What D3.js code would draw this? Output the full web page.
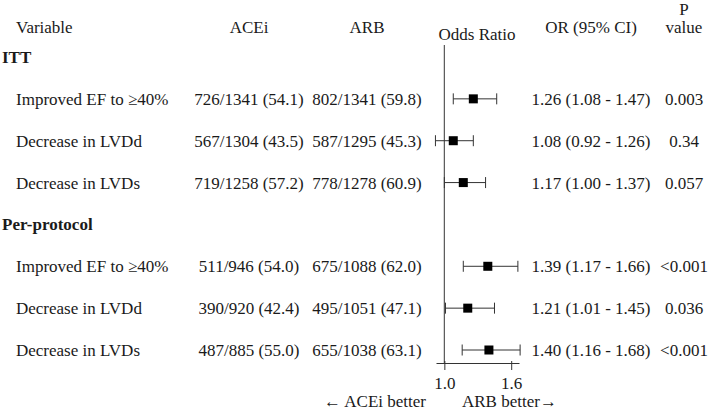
<!DOCTYPE html>
<html>
<head>
<meta charset="utf-8">
<script src="https://cdn.jsdelivr.net/npm/d3@7"></script>
<style>
  body { margin: 0; background: #fff; }
  svg text { font-family: "Liberation Serif", "Times New Roman", serif; fill: #1a1a1a; }
</style>
</head>
<body>
<svg id="chart" width="709" height="412"></svg>
<script>
// DATA
var groups = ['ITT', 'Per-protocol'];
var variables = ['Improved EF to \u226540%', 'Decrease in LVDd', 'Decrease in LVDs'];
var aceiText = ['726/1341 (54.1)', '567/1304 (43.5)', '719/1258 (57.2)',
                '511/946 (54.0)', '390/920 (42.4)', '487/885 (55.0)'];
var arbText = ['802/1341 (59.8)', '587/1295 (45.3)', '778/1278 (60.9)',
               '675/1088 (62.0)', '495/1051 (47.1)', '655/1038 (63.1)'];
var orVals = [1.26, 1.08, 1.17, 1.39, 1.21, 1.40];
var ciLow = [1.08, 0.92, 1.00, 1.17, 1.01, 1.16];
var ciHigh = [1.47, 1.26, 1.37, 1.66, 1.45, 1.68];
var pVals = ['0.003', '0.34', '0.057', '<0.001', '0.036', '<0.001'];
var axisTicks = [1.0, 1.6];

var svg = d3.select('#chart');
var fs = 17;

// build rows: header row then 3 variable rows per group
var rows = [];
groups.forEach(function(g, gi) {
  rows.push({ type: 'header', label: g });
  variables.forEach(function(v, vi) {
    var k = gi * 3 + vi;
    rows.push({ type: 'item', label: v, acei: aceiText[k], arb: arbText[k],
      or: orVals[k], lo: ciLow[k], hi: ciHigh[k], p: pVals[k] });
  });
});

// SCALES
var yScale = d3.scalePoint().domain(d3.range(rows.length)).range([57, 350]);
var xScale = d3.scaleLinear().domain([0.925, 1.67]).range([436, 519]);

// COLUMN HEADERS
svg.append('text').text('Variable').attr('x', 16).attr('y', 33).style('font-size', fs + 'px');
svg.append('text').text('ACEi').attr('x', 249).attr('y', 33).attr('text-anchor', 'middle').style('font-size', fs + 'px');
svg.append('text').text('ARB').attr('x', 367).attr('y', 33).attr('text-anchor', 'middle').style('font-size', fs + 'px');
svg.append('text').text('Odds Ratio').attr('x', 477).attr('y', 40).attr('text-anchor', 'middle').style('font-size', fs + 'px');
svg.append('text').text('OR (95% CI)').attr('x', 591).attr('y', 33).attr('text-anchor', 'middle').style('font-size', fs + 'px');
svg.append('text').text('P').attr('x', 684).attr('y', 15).attr('text-anchor', 'middle').style('font-size', fs + 'px');
svg.append('text').text('value').attr('x', 684).attr('y', 33).attr('text-anchor', 'middle').style('font-size', fs + 'px');

// REFERENCE LINE
svg.append('line')
  .attr('x1', xScale(1)).attr('x2', xScale(1))
  .attr('y1', 45).attr('y2', 363)
  .attr('stroke', '#555').attr('stroke-width', 1.2);

// ROWS
var rowG = svg.selectAll('.row').data(rows).enter()
  .append('g').attr('class', 'row')
  .attr('transform', function(d, i) { return 'translate(0,' + yScale(i) + ')'; });

rowG.filter(function(d) { return d.type === 'header'; })
  .append('text').text(function(d) { return d.label; })
  .attr('x', 2).attr('y', 6).style('font-size', fs + 'px').style('font-weight', 'bold');

var items = rowG.filter(function(d) { return d.type === 'item'; });

items.append('text').text(function(d) { return d.label; })
  .attr('x', 16).attr('y', 6).style('font-size', fs + 'px');
items.append('text').text(function(d) { return d.acei; })
  .attr('x', 249).attr('y', 6).attr('text-anchor', 'middle').style('font-size', fs + 'px');
items.append('text').text(function(d) { return d.arb; })
  .attr('x', 367).attr('y', 6).attr('text-anchor', 'middle').style('font-size', fs + 'px');
items.append('text').text(function(d) { return d3.format('.2f')(d.or) + ' (' + d3.format('.2f')(d.lo) + ' - ' + d3.format('.2f')(d.hi) + ')'; })
  .attr('x', 591).attr('y', 6).attr('text-anchor', 'middle').style('font-size', fs + 'px');
items.append('text').text(function(d) { return d.p; })
  .attr('x', 684).attr('y', 6).attr('text-anchor', 'middle').style('font-size', fs + 'px');

// CI whiskers
items.append('line')
  .attr('x1', function(d) { return xScale(d.lo); })
  .attr('x2', function(d) { return xScale(d.hi); })
  .attr('y1', 0).attr('y2', 0)
  .attr('stroke', '#333').attr('stroke-width', 1);
items.append('line')
  .attr('x1', function(d) { return xScale(d.lo); })
  .attr('x2', function(d) { return xScale(d.lo); })
  .attr('y1', -5.5).attr('y2', 5.5)
  .attr('stroke', '#333').attr('stroke-width', 1);
items.append('line')
  .attr('x1', function(d) { return xScale(d.hi); })
  .attr('x2', function(d) { return xScale(d.hi); })
  .attr('y1', -5.5).attr('y2', 5.5)
  .attr('stroke', '#333').attr('stroke-width', 1);
items.append('rect')
  .attr('x', function(d) { return xScale(d.or) - 4.5; })
  .attr('y', -4.5).attr('width', 9).attr('height', 9)
  .attr('fill', '#000');

// X AXIS
var xAxis = d3.axisBottom(xScale).tickValues(axisTicks).tickFormat(d3.format('.1f'))
  .tickSizeInner(7).tickSizeOuter(0).tickPadding(7);
var axisG = svg.append('g')
  .attr('transform', 'translate(0,363)')
  .call(xAxis);
axisG.select('.domain').attr('stroke', '#333');
axisG.selectAll('.tick line').attr('stroke', '#333').attr('y1', -2);
axisG.selectAll('.tick text')
  .style('font-size', fs + 'px')
  .style('font-family', '"Liberation Serif", serif')
  .attr('fill', '#1a1a1a');

// DIRECTION LABELS
svg.append('text').text('\u2190 ACEi better').attr('x', 426).attr('y', 407)
  .attr('text-anchor', 'end').style('font-size', fs + 'px');
svg.append('text').text('ARB better\u2192').attr('x', 462).attr('y', 407)
  .style('font-size', fs + 'px');
</script>
</body>
</html>
